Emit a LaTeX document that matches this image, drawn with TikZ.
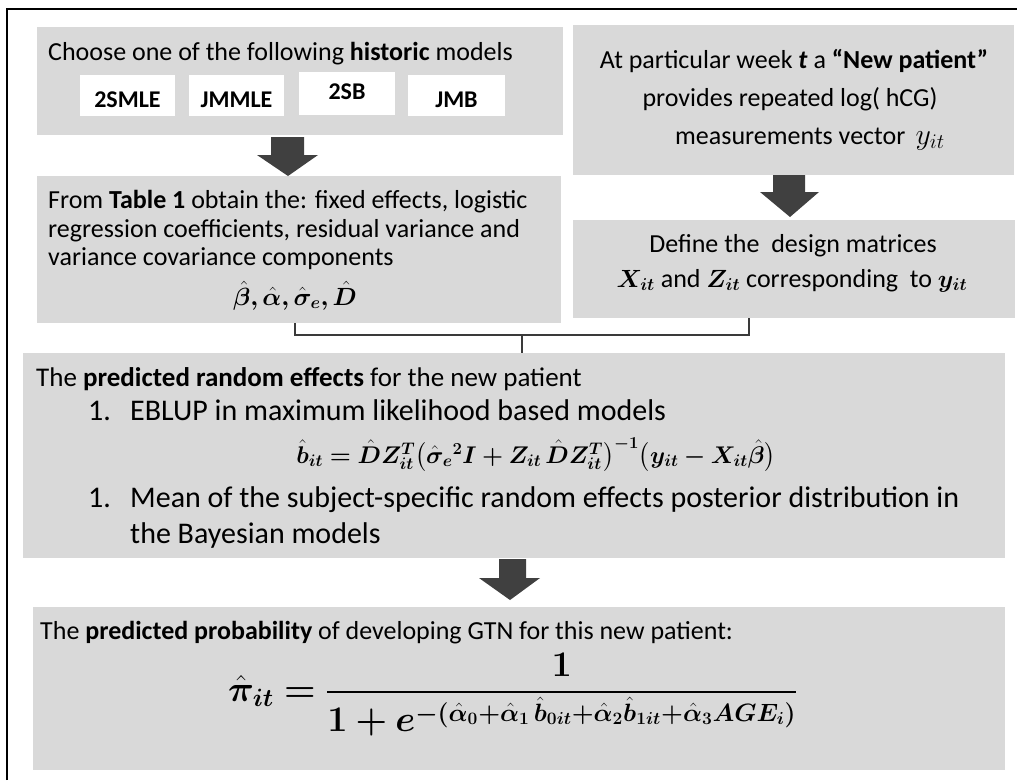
\documentclass[tikz,border=0pt]{standalone}
\usepackage{fontspec}
\setmainfont{Carlito}
\usepackage{amsmath}
\usepackage{bm}
\usepackage{graphicx}
\usetikzlibrary{calc}
\definecolor{boxgray}{RGB}{217,217,217}
\definecolor{arrowgray}{RGB}{64,64,64}
\definecolor{linegray}{RGB}{58,58,58}
\newcommand{\bh}[1]{\bm{\hat{#1}}}
\newcommand{\bb}[1]{\bm{#1}}
\begin{document}
\begin{tikzpicture}[x=1pt,y=-1pt,
  panel/.style={fill=boxgray, draw=none, inner sep=0pt, anchor=north west},
  modelbox/.style={fill=white, draw=none, inner sep=0pt, anchor=north west},
  txt/.style={inner sep=0pt, font=\fontsize{26}{31}\selectfont},
  listtxt/.style={inner sep=0pt, font=\fontsize{30}{34}\selectfont},
  modeltxt/.style={inner sep=0pt, font=\fontsize{24}{28}\selectfont\bfseries},
  blockarrow/.style={fill=arrowgray, draw=none},
  conn/.style={draw=linegray, line width=2pt},
  frameline/.style={draw=black, line width=2.5pt}
]
\useasboundingbox (0,0) rectangle (1017,780);
\fill[white] (0,0) rectangle (1017,780);
% outer frame (left and top visible)
\draw[frameline] (7,780) -- (7,9) -- (1017,9);

% panels
\node[panel, minimum width=526pt, minimum height=108pt] (b1) at (37,27) {};
\node[panel, minimum width=441pt, minimum height=150pt] (b2) at (573,25) {};
\node[panel, minimum width=524pt, minimum height=147pt] (b3) at (37,176) {};
\node[panel, minimum width=442pt, minimum height=98pt] (b4) at (573,220) {};
\node[panel, minimum width=982pt, minimum height=205pt] (b5) at (23,353) {};
\node[panel, minimum width=972pt, minimum height=163pt] (b6) at (33,607) {};

% model boxes
\node[modelbox, minimum width=95pt, minimum height=41pt] (m1) at (80,75) {};
\node[modelbox, minimum width=95pt, minimum height=41pt] (m2) at (189,75) {};
\node[modelbox, minimum width=96pt, minimum height=43pt] (m3) at (299,72) {};
\node[modelbox, minimum width=97pt, minimum height=41pt] (m4) at (408,75) {};
\node[modeltxt, anchor=base] (m1t) at (127.5,107) {2SMLE};
\node[modeltxt, anchor=base] (m2t) at (236.5,107) {JMMLE};
\node[modeltxt, anchor=base] (m3t) at (347,99) {2SB};
\node[modeltxt, anchor=base] (m4t) at (456.5,107) {JMB};

% box 1 text
\node[txt, anchor=base west] (t1) at (48,60) {Choose one of the following \textbf{historic} models};

% box 2 text
\node[txt, anchor=base] (t2a) at (794,68) {At particular week \textbf{\textit{t}} a \textbf{“New patient”}};
\node[txt, anchor=base] (t2b) at (790,106) {provides repeated log( hCG)};
\node[txt, anchor=base west] (t2c) at (675,144) {measurements vector \,\scalebox{1.2}{$y_{it}$}};

% box 3 text
\node[txt, anchor=base] (t3d) at (295,305) {$\bh{\beta}\bb{,}\bh{\alpha}\bb{,}\bh{\sigma}_{\bb{e}}\bb{,}\bh{D}$};
\node[txt, anchor=base west] (t3a) at (48,208) {From \textbf{Table 1} obtain the: fixed effects, logistic};
\node[txt, anchor=base west] (t3b) at (48,237) {regression coefficients, residual variance and};
\node[txt, anchor=base west] (t3c) at (48,265) {variance covariance components};

% box 4 text
\node[txt, anchor=base] (t4a) at (793,252) {Define the\ \ design matrices};
\node[txt, anchor=base] (t4b) at (792,287) {$\bb{X}_{\bb{it}}$ and $\bb{Z}_{\bb{it}}$ corresponding\ \ to $\bb{y}_{\bb{it}}$};

% box 5 text
\node[txt, anchor=base west, font=\fontsize{27}{31}\selectfont] (t5a) at (36,386) {The \textbf{predicted random effects} for the new patient};
\node[listtxt, anchor=base west] (t5b) at (88,420) {\makebox[42pt][l]{1.}EBLUP in maximum likelihood based models};
\node[txt, anchor=base] (t5c) at (536,463) {\scalebox{0.97}{$\bh{b}_{\bb{it}} \bb{=} \bh{D}\bb{Z}_{\bb{it}}^{\bb{T}}\bigl(\bh{\sigma}_{\bb{e}}{}^{\bb{2}}\bb{I} \bb{+} \bb{Z}_{\bb{it}}\,\bh{D}\bb{Z}_{\bb{it}}^{\bb{T}}\bigr)^{\bb{-1}}\bigl(\bb{y}_{\bb{it}} \bb{-} \bb{X}_{\bb{it}}\bh{\beta}\bigr)$}};
\node[listtxt, anchor=base west] (t5d) at (88,507) {\makebox[42pt][l]{1.}Mean of the subject-specific random effects posterior distribution in};
\node[listtxt, anchor=base west] (t5e) at (130,543) {the Bayesian models};

% box 6 text
\node[txt, anchor=base west] (t6a) at (40,639) {The \textbf{predicted probability} of developing GTN for this new patient:};
\node[txt, anchor=base west] (t6b) at (228,701) {\scalebox{1.45}{$\displaystyle \bh{\pi}_{\bb{it}} \bb{=} \frac{\bb{1}}{\bb{1}\bb{+}\bb{e}^{\bb{-}\bb{(}\bh{\alpha}_{\bb{0}}\bb{+}\bh{\alpha}_{\bb{1}}\,\bh{b}_{\bb{0it}}\bb{+}\bh{\alpha}_{\bb{2}}\bh{b}_{\bb{1it}}\bb{+}\bh{\alpha}_{\bb{3}}\bb{AGE}_{\bb{i}}\bb{)}}}$}};

% block arrows
\fill[blockarrow] (271,137) -- (304,137) -- (304,155) -- (318,155) -- (288,176) -- (257,155) -- (271,155) -- cycle;
\fill[blockarrow] (773,175) -- (805,175) -- (805,192) -- (819,192) -- (790,217) -- (760,192) -- (773,192) -- cycle;
\fill[blockarrow] (499,559) -- (526,559) -- (526,578) -- (540,578) -- (510,600) -- (479,578) -- (499,578) -- cycle;

% bracket connector
\coordinate (cl) at (295,335);
\coordinate (cr) at (749,335);
\coordinate (cm) at (522,335);
\draw[conn] (b3.south -| cl) -- (cl) -- (cr) -- (b4.south -| cr);
\draw[conn] (cm) -- (cm |- b5.north);
\end{tikzpicture}
\end{document}
